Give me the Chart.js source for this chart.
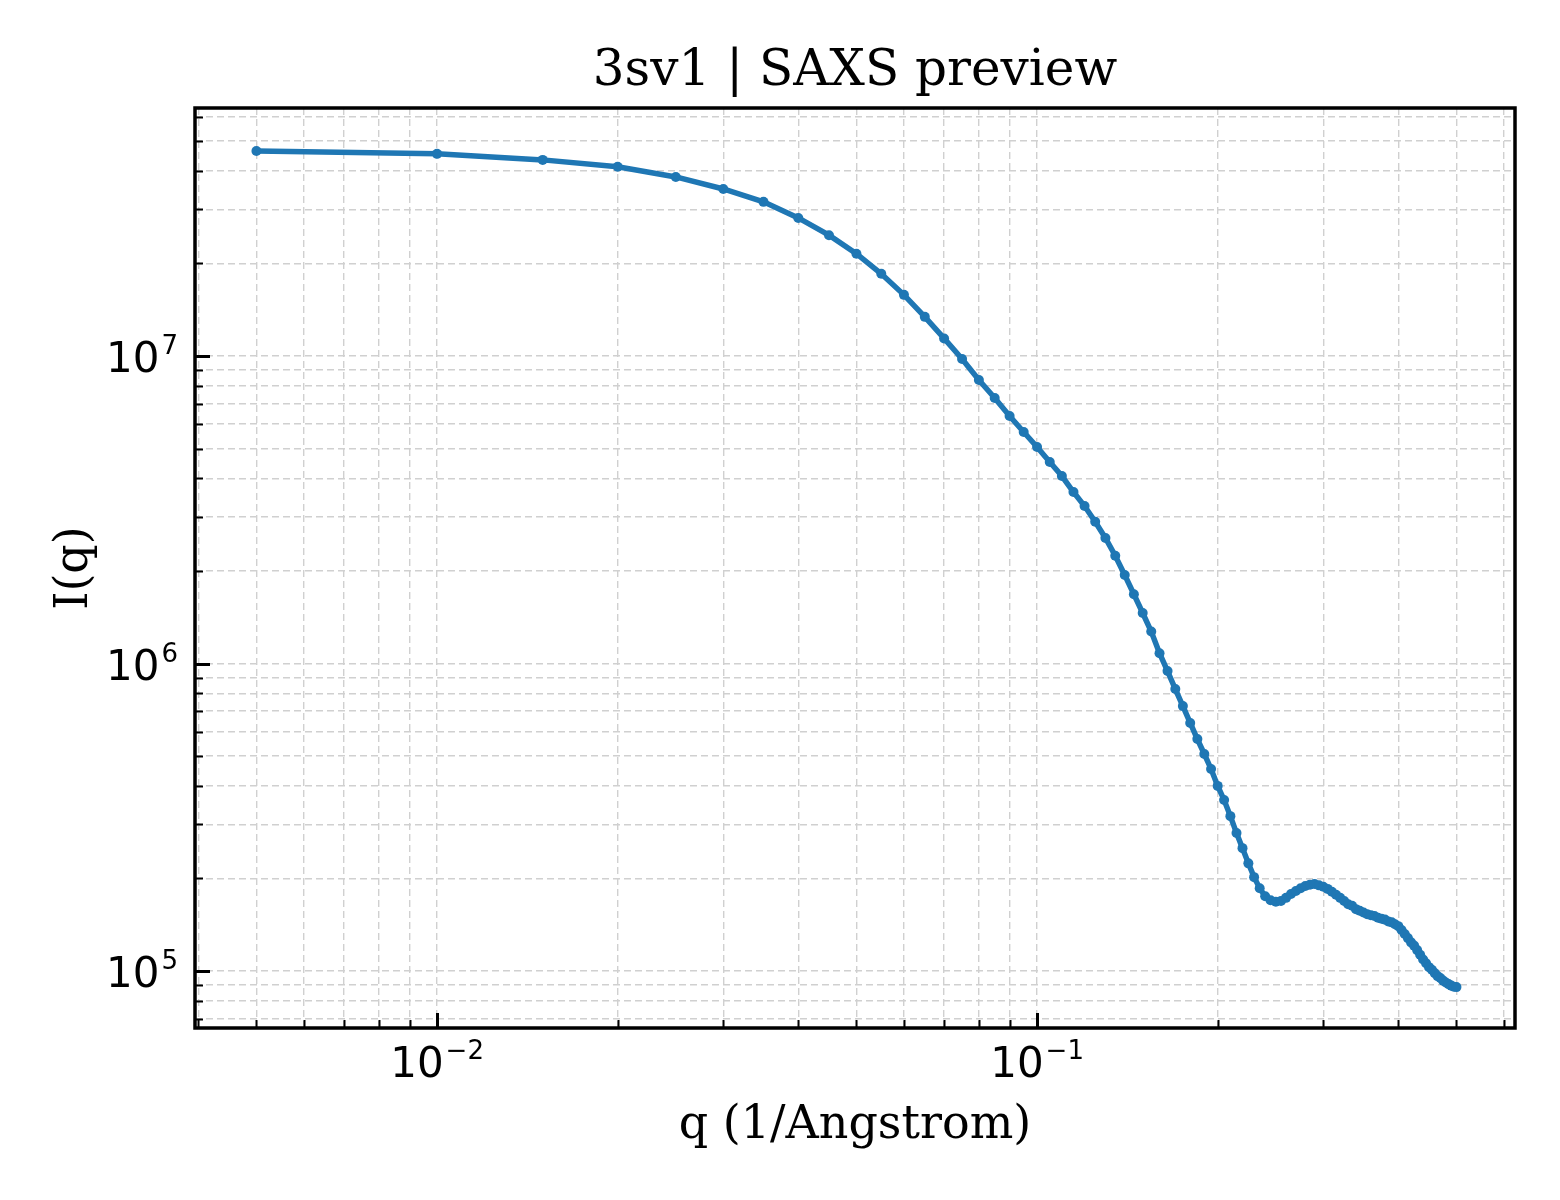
<!DOCTYPE html>
<html>
<head>
<meta charset="utf-8">
<script src="https://cdn.jsdelivr.net/npm/chart.js@4.4.1/dist/chart.umd.min.js"></script>
<style>
  html, body { margin: 0; padding: 0; background: #fff; }
  #wrap { width: 1560px; height: 1200px; }
</style>
</head>
<body>
<div id="wrap"><canvas id="myChart" width="1560" height="1200"></canvas></div>
<script>
var qValues = [
  0.005, 0.010, 0.015, 0.020, 0.025, 0.030, 0.035, 0.040, 0.045, 0.050,
  0.055, 0.060, 0.065, 0.070, 0.075, 0.080, 0.085, 0.090, 0.095, 0.100,
  0.105, 0.110, 0.115, 0.120, 0.125, 0.130, 0.135, 0.140, 0.145, 0.150,
  0.155, 0.160, 0.165, 0.170, 0.175, 0.180, 0.185, 0.190, 0.195, 0.200,
  0.205, 0.210, 0.215, 0.220, 0.225, 0.230, 0.235, 0.240, 0.245, 0.250,
  0.255, 0.260, 0.265, 0.270, 0.275, 0.280, 0.285, 0.290, 0.295, 0.300,
  0.305, 0.310, 0.315, 0.320, 0.325, 0.330, 0.335, 0.340, 0.345, 0.350,
  0.355, 0.360, 0.365, 0.370, 0.375, 0.380, 0.385, 0.390, 0.395, 0.400,
  0.405, 0.410, 0.415, 0.420, 0.425, 0.430, 0.435, 0.440, 0.445, 0.450,
  0.455, 0.460, 0.465, 0.470, 0.475, 0.480, 0.485, 0.490, 0.495, 0.500
];
var intensity = [
  4.64e7, 4.54e7, 4.34e7, 4.12e7, 3.82e7, 3.49e7, 3.17e7, 2.81e7, 2.47e7, 2.15e7,
  1.85e7, 1.58e7, 1.34e7, 1.14e7, 9.78e6, 8.35e6, 7.30e6, 6.38e6, 5.66e6, 5.06e6,
  4.52e6, 4.07e6, 3.61e6, 3.25e6, 2.89e6, 2.56e6, 2.24e6, 1.94e6, 1.68e6, 1.46e6,
  1.27e6, 1.08e6, 9.45e5, 8.26e5, 7.27e5, 6.41e5, 5.68e5, 5.08e5, 4.54e5, 4.00e5,
  3.60e5, 3.19e5, 2.81e5, 2.51e5, 2.24e5, 2.02e5, 1.86e5, 1.75e5, 1.70e5, 1.68e5,
  1.69e5, 1.73e5, 1.78e5, 1.82e5, 1.86e5, 1.89e5, 1.91e5, 1.92e5, 1.90e5, 1.88e5,
  1.85e5, 1.81e5, 1.77e5, 1.73e5, 1.69e5, 1.65e5, 1.63e5, 1.59e5, 1.57e5, 1.55e5,
  1.53e5, 1.52e5, 1.51e5, 1.49e5, 1.48e5, 1.47e5, 1.45e5, 1.44e5, 1.42e5, 1.40e5,
  1.36e5, 1.32e5, 1.28e5, 1.24e5, 1.21e5, 1.17e5, 1.13e5, 1.09e5, 1.06e5, 1.03e5,
  1.01e5, 9.85e4, 9.63e4, 9.49e4, 9.31e4, 9.18e4, 9.07e4, 8.97e4, 8.90e4, 8.87e4
];

// axis ranges and major tick labels (base 10, exponent as superscript)
var xRange = [0.00395, 0.626];
var yRange = [6.53e4, 6.40e7];
var xMajorTicks = [0.01, 0.1];
var xMajorExp = ["\u22122", "\u22121"];
var yMajorTicks = [1e5, 1e6, 1e7];
var yMajorExp = ["5", "6", "7"];

var titleText = "3sv1 | SAXS preview";
var xTitle = "q (1/Angstrom)";
var yTitle = "I(q)";

var points = qValues.map(function (q, i) { return { x: q, y: intensity[i] }; });

// all 1..9 x 10^n positions inside the range, for grid lines and ticks
function logTicks(min, max) {
  var out = [];
  for (var e = Math.floor(Math.log10(min)); e <= Math.ceil(Math.log10(max)); e++) {
    for (var m = 1; m <= 9; m++) {
      var v = m * Math.pow(10, e);
      if (v >= min && v <= max) out.push({ value: v });
    }
  }
  return out;
}
function isMajor(v) {
  var l = Math.log10(v);
  return Math.abs(l - Math.round(l)) < 1e-9;
}

function drawPow(ctx, exp, x, baseline, align) {
  ctx.font = '42px "DejaVu Sans"';
  var wb = ctx.measureText("10").width;
  ctx.font = '26px "DejaVu Sans"';
  var we = ctx.measureText(exp).width;
  var total = wb + 2 + we;
  var start = align === "right" ? x - total : x - total / 2;
  ctx.textAlign = "left";
  ctx.textBaseline = "alphabetic";
  ctx.font = '42px "DejaVu Sans"';
  ctx.fillText("10", start, baseline);
  ctx.font = '26px "DejaVu Sans"';
  ctx.fillText(exp, start + wb + 2, baseline - 18);
}

var axesDecor = {
  id: "axesDecor",
  afterDraw: function (chart) {
    var ctx = chart.ctx, a = chart.chartArea;
    var xs = chart.scales.x, ys = chart.scales.y;
    ctx.save();
    ctx.fillStyle = "#000";
    ctx.strokeStyle = "#000";

    // inward ticks, bottom and left only
    xs.ticks.forEach(function (t) {
      var major = isMajor(t.value);
      var px = Math.round(xs.getPixelForValue(t.value)) + 0.5;
      ctx.lineWidth = major ? 3 : 2;
      ctx.beginPath();
      ctx.moveTo(px, a.bottom);
      ctx.lineTo(px, a.bottom - (major ? 15 : 8));
      ctx.stroke();
    });
    ys.ticks.forEach(function (t) {
      var major = isMajor(t.value);
      var py = Math.round(ys.getPixelForValue(t.value)) + 0.5;
      ctx.lineWidth = major ? 3 : 2;
      ctx.beginPath();
      ctx.moveTo(a.left, py);
      ctx.lineTo(a.left + (major ? 15 : 8), py);
      ctx.stroke();
    });

    // frame
    ctx.lineWidth = 3.5;
    ctx.strokeRect(a.left, a.top, a.right - a.left, a.bottom - a.top);

    // tick labels
    xMajorTicks.forEach(function (v, i) {
      drawPow(ctx, xMajorExp[i], xs.getPixelForValue(v), a.bottom + 49, "center");
    });
    yMajorTicks.forEach(function (v, i) {
      drawPow(ctx, yMajorExp[i], a.left - 17, ys.getPixelForValue(v) + 16, "right");
    });

    // titles
    var cx = (a.left + a.right) / 2;
    ctx.textAlign = "center";
    ctx.textBaseline = "alphabetic";
    ctx.font = '50px "DejaVu Serif"';
    ctx.fillText(titleText, cx, 85);
    ctx.font = '46px "DejaVu Serif"';
    ctx.fillText(xTitle, cx, 1138);
    ctx.save();
    ctx.translate(87, (a.top + a.bottom) / 2);
    ctx.rotate(-Math.PI / 2);
    ctx.fillText(yTitle, 0, 0);
    ctx.restore();

    ctx.restore();
  }
};

var gridOpts = { color: "#d0d0d0", lineWidth: 1.4, drawTicks: false };
var borderOpts = { display: false, dash: [7, 4] };

new Chart("myChart", {
  type: "scatter",
  data: {
    datasets: [{
      data: points,
      showLine: true,
      borderColor: "#1f77b4",
      backgroundColor: "#1f77b4",
      borderWidth: 5.5,
      pointRadius: 5,
      pointBorderWidth: 0,
      pointHoverRadius: 5,
      tension: 0
    }]
  },
  options: {
    responsive: false,
    animation: false,
    devicePixelRatio: 1,
    layout: { padding: { left: 195, right: 45, top: 108, bottom: 172 } },
    plugins: { legend: { display: false }, tooltip: { enabled: false } },
    scales: {
      x: {
        type: "logarithmic",
        bounds: "data",
        min: xRange[0],
        max: xRange[1],
        afterBuildTicks: function (s) { s.ticks = logTicks(xRange[0], xRange[1]); },
        ticks: { display: false },
        grid: gridOpts,
        border: borderOpts
      },
      y: {
        type: "logarithmic",
        bounds: "data",
        min: yRange[0],
        max: yRange[1],
        afterBuildTicks: function (s) { s.ticks = logTicks(yRange[0], yRange[1]); },
        ticks: { display: false },
        grid: gridOpts,
        border: borderOpts
      }
    }
  },
  plugins: [axesDecor]
});
</script>
</body>
</html>
